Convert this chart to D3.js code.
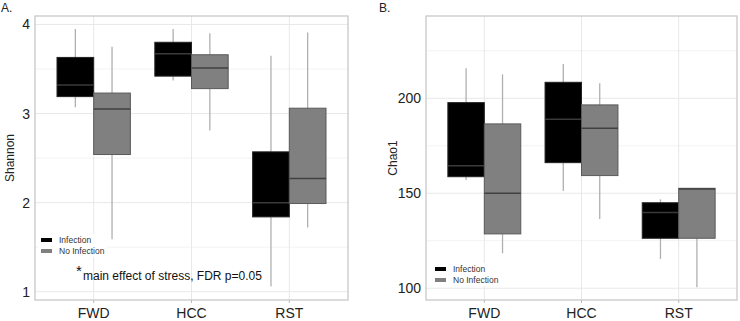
<!DOCTYPE html>
<html>
<head>
<meta charset="utf-8">
<script src="https://cdn.jsdelivr.net/npm/d3@7"></script>
<style>
  body { margin: 0; background: #fff; }
  svg { display: block; font-family: Arial, "Liberation Sans", sans-serif; }
</style>
</head>
<body>
<svg id="chart" width="740" height="321"></svg>
<script>
const categories = ['FWD', 'HCC', 'RST'];
const groups = ['Infection', 'No Infection'];

// [lower whisker, q1, median, q3, upper whisker]
const shannonInfection = [
  [3.07, 3.19, 3.32, 3.63, 3.95],
  [3.37, 3.42, 3.67, 3.80, 3.95],
  [1.06, 1.84, 2.00, 2.57, 3.65]
];
const shannonNoInfection = [
  [1.59, 2.54, 3.05, 3.23, 3.75],
  [2.81, 3.28, 3.51, 3.66, 3.90],
  [1.72, 1.99, 2.27, 3.06, 3.91]
];
const chaoInfection = [
  [157, 158.7, 164.5, 197.7, 215.8],
  [151.2, 166.1, 189, 208.4, 218],
  [115.4, 126.3, 139.8, 145, 146.8]
];
const chaoNoInfection = [
  [118.4, 128.6, 150, 186.5, 212.6],
  [136.5, 159.3, 184.2, 196.5, 207.9],
  [100.5, 126.3, 152.2, 152.6, 152.6]
];
const shannonTicks = [1, 2, 3, 4];
const shannonMinor = [1.5, 2.5, 3.5];
const chaoTicks = [100, 150, 200];
const chaoMinor = [125, 175, 225];

const svg = d3.select('#chart');
const fills = { 'Infection': '#000000', 'No Infection': '#808080' };
const medians = { 'Infection': '#3a3a3a', 'No Infection': '#404040' };
const strokes = { 'Infection': '#222222', 'No Infection': '#5a5a5a' };

function drawPanel(opt) {
  const { left, right, top, bottom, domain, ticks, minor, series, label, title, titleX, legendPos, labelX } = opt;
  const g = svg.append('g');
  const x = d3.scalePoint().domain(categories).range([left, right]).padding(0.6);
  const y = d3.scaleLinear().domain(domain).range([bottom, top]);
  const boxW = x.step() * 0.375;

  // grid
  g.selectAll('.minor').data(minor).join('line')
    .attr('x1', left).attr('x2', right)
    .attr('y1', (d) => y(d)).attr('y2', (d) => y(d))
    .attr('stroke', '#f3f3f3').attr('stroke-width', 1);
  g.selectAll('.major').data(ticks).join('line')
    .attr('x1', left).attr('x2', right)
    .attr('y1', (d) => y(d)).attr('y2', (d) => y(d))
    .attr('stroke', '#e8e8e8').attr('stroke-width', 1);
  g.selectAll('.vgrid').data(categories).join('line')
    .attr('x1', (d) => x(d)).attr('x2', (d) => x(d))
    .attr('y1', top).attr('y2', bottom)
    .attr('stroke', '#e8e8e8').attr('stroke-width', 1);

  // boxes
  series.forEach((vals, gi) => {
    const grp = groups[gi];
    categories.forEach((c, ci) => {
      const [lo, q1, med, q3, hi] = vals[ci];
      const x0 = gi === 0 ? x(c) - boxW : x(c);
      const cx = x0 + boxW / 2;
      g.append('line').attr('x1', cx).attr('x2', cx).attr('y1', y(hi)).attr('y2', y(q3))
        .attr('stroke', '#b0b0b0').attr('stroke-width', 1.3);
      g.append('line').attr('x1', cx).attr('x2', cx).attr('y1', y(q1)).attr('y2', y(lo))
        .attr('stroke', '#b0b0b0').attr('stroke-width', 1.3);
      g.append('rect').attr('x', x0).attr('y', y(q3)).attr('width', boxW).attr('height', y(q1) - y(q3))
        .attr('fill', fills[grp]).attr('stroke', strokes[grp]).attr('stroke-width', 1);
      g.append('line').attr('x1', x0).attr('x2', x0 + boxW).attr('y1', y(med)).attr('y2', y(med))
        .attr('stroke', medians[grp]).attr('stroke-width', 1.5);
    });
  });

  // border
  g.append('rect').attr('x', left).attr('y', top).attr('width', right - left).attr('height', bottom - top)
    .attr('fill', 'none').attr('stroke', '#c8c8c8').attr('stroke-width', 1.3);

  // x ticks
  g.selectAll('.xt').data(categories).join('line')
    .attr('x1', (d) => x(d)).attr('x2', (d) => x(d)).attr('y1', bottom).attr('y2', bottom + 3)
    .attr('stroke', '#bbbbbb');
  g.selectAll('.xl').data(categories).join('text')
    .attr('x', (d) => x(d)).attr('y', bottom + 18)
    .attr('text-anchor', 'middle').attr('font-size', 14).attr('fill', '#222')
    .text((d) => d);

  // y labels
  g.selectAll('.yl').data(ticks).join('text')
    .attr('x', left - 5).attr('y', (d) => y(d) + 5)
    .attr('text-anchor', 'end').attr('font-size', 14).attr('fill', '#222')
    .text((d) => d);

  g.append('text')
    .attr('transform', `translate(${labelX},${(top + bottom) / 2}) rotate(-90)`)
    .attr('text-anchor', 'middle').attr('font-size', 12).attr('fill', '#222')
    .text(label);

  g.append('text').attr('x', titleX).attr('y', 12)
    .attr('font-size', 12).attr('fill', '#222').text(title);

  // legend
  const lg = g.append('g').attr('transform', `translate(${legendPos[0]},${legendPos[1]})`);
  lg.append('rect').attr('width', 69).attr('height', 23).attr('fill', '#fff');
  groups.forEach((grp, i) => {
    lg.append('rect').attr('x', 3).attr('y', 4 + i * 11).attr('width', 11).attr('height', 4)
      .attr('fill', fills[grp]);
    lg.append('text').attr('x', 21).attr('y', 9 + i * 11)
      .attr('font-size', 8.5).attr('fill', '#333')
      .attr('font-family', '"Liberation Sans Narrow", "Arial Narrow", Arial, sans-serif')
      .text(grp);
  });
  return { x, y };
}

drawPanel({
  left: 35, right: 348, top: 16, bottom: 300,
  domain: [0.907, 4.095], ticks: shannonTicks, minor: shannonMinor,
  series: [shannonInfection, shannonNoInfection],
  label: 'Shannon', title: 'A.', titleX: 1, legendPos: [38, 234], labelX: 14
});

drawPanel({
  left: 426, right: 737, top: 16, bottom: 300,
  domain: [93.8, 243.3], ticks: chaoTicks, minor: chaoMinor,
  series: [chaoInfection, chaoNoInfection],
  label: 'Chao1', title: 'B.', titleX: 379, legendPos: [432, 263], labelX: 397
});

// annotation
svg.append('text').attr('x', 76).attr('y', 276)
  .attr('font-size', 15).attr('fill', '#111').text('*');
svg.append('text').attr('x', 83).attr('y', 280)
  .attr('font-size', 12).attr('fill', '#111').text('main effect of stress, FDR p=0.05');
</script>
</body>
</html>
